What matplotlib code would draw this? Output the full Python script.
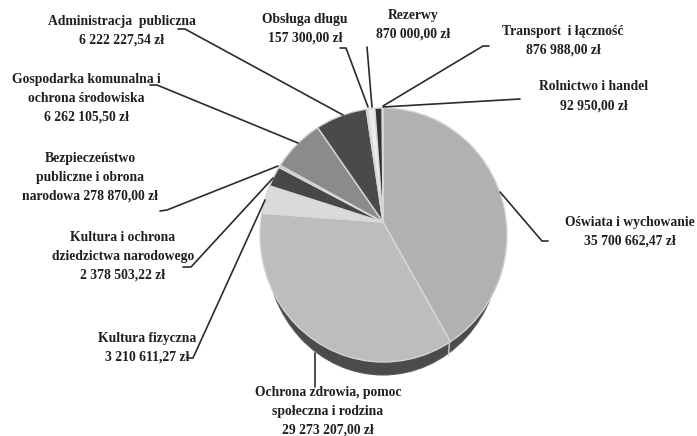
import matplotlib
matplotlib.use("Agg")
import matplotlib.pyplot as plt
from matplotlib.patches import Ellipse

# ---- data -------------------------------------------------------------
categories = ["Oświata i wychowanie", "Ochrona zdrowia, pomoc\nspołeczna i rodzina",
              "Kultura fizyczna", "Kultura i ochrona\ndziedzictwa narodowego",
              "Bezpieczeństwo\npubliczne i obrona\nnarodowa", "Gospodarka komunalna i\nochrona środowiska",
              "Administracja  publiczna", "Obsługa długu", "Rezerwy", "Transport  i łączność", "Rolnictwo i handel"]
values = [35700662.47, 29273207.00, 3210611.27, 2378503.22, 278870.00, 6262105.50,
          6222227.54, 157300.00, 870000.00, 876988.00, 92950.00]
value_labels = ["35 700 662,47 zł", "29 273 207,00 zł", "3 210 611,27 zł", "2 378 503,22 zł",
                "278 870,00 zł", "6 262 105,50 zł", "6 222 227,54 zł", "157 300,00 zł",
                "870 000,00 zł", "876 988,00 zł", "92 950,00 zł"]

# ---- styles / layout (pixel positions) ---------------------------------
colors = ["#b1b1b1", "#bdbdbd", "#dadada", "#474747", "#c4c4c4", "#8b8b8b",
          "#4a4a4a", "#d0d0d0", "#ececec", "#333333", "#9a9a9a"]
label_pos = [(630, 222), (328, 392), (147, 338), (123, 237), (90, 158), (86, 79),
             (122, 21), (305, 19), (413, 15), (563, 31), (594, 87)]
leaders = [
    [(548, 241), (542, 241), (500, 192)],
    [(315, 387), (315, 353)],
    [(188, 358), (193, 358), (265, 200)],
    [(183, 267), (191, 267), (273, 178)],
    [(160, 211), (167, 210), (278, 166)],
    [(150, 85), (157, 85), (298, 143)],
    [(178, 29), (185, 29), (343, 115)],
    [(340, 48), (346, 48), (368, 107)],
    [(367, 47), (372, 107)],
    [(489, 46), (483, 46), (383, 106)],
    [(520, 99), (383, 107)],
]

fig = plt.figure(figsize=(6.97, 4.36), dpi=100, facecolor="white")
ax = fig.add_axes([0, 0, 1, 1])

apex = (383, 222)
# side of the pie
ax.add_patch(Ellipse((383, 248), 234, 254, facecolor="#4b4b4b", edgecolor="#5a5a5a", lw=0.8, zorder=1))

wedges, _ = ax.pie(values, colors=colors, startangle=-90, counterclock=True, center=apex, radius=320,
                   wedgeprops=dict(edgecolor="#d8d8d8", linewidth=1.0, zorder=2))
top = Ellipse((383.5, 235), 247, 254, facecolor="none", edgecolor="none", zorder=3)
ax.add_patch(top)
for w in wedges:
    w.set_clip_on(True)
    w.set_clip_path(top)
ax.add_patch(Ellipse((383.5, 235), 247, 254, facecolor="none", edgecolor="#d4d4d4", lw=1.0, zorder=3))
ax.plot([449.5, 448.5], [342, 355], color="#cfcfcf", lw=1.0, zorder=3)

ax.set_xlim(0, 697)
ax.set_ylim(436, 0)
ax.set_aspect("auto")
ax.axis("off")

for pts in leaders:
    ax.plot([p[0] for p in pts], [p[1] for p in pts], color="#2b2b2b", lw=1.2,
            solid_capstyle="round", zorder=4)

for cat, val, (x, y) in zip(categories, value_labels, label_pos):
    if cat.endswith("narodowa"):
        txt = cat + " " + val
    else:
        txt = cat + "\n" + val
    for i, line in enumerate(txt.split("\n")):
        ax.text(x, y + i * 19, line, ha="center", va="center", fontsize=9.8, fontweight="bold",
                family="Liberation Serif", color="#1f1f1f", zorder=5)

fig.savefig("out.png", dpi=100)
